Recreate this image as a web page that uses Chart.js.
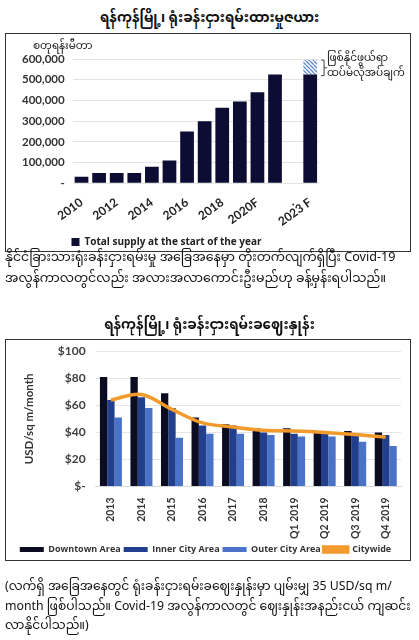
<!DOCTYPE html>
<html>
<head>
<meta charset="utf-8">
<script src="https://cdn.jsdelivr.net/npm/chart.js@4/dist/chart.umd.min.js"></script>
<style>
  body { margin: 0; background: #fff; width: 419px; height: 640px; position: relative; overflow: hidden;
         font-family: "Noto Sans Myanmar", "Padauk", "Myanmar Text", "Noto Sans", sans-serif; color: #111; }
  .t { position: absolute; white-space: nowrap; }
  .title { left: 0; width: 419px; text-align: center; font-size: 13.5px; font-weight: bold; }
  .box { position: absolute; border: 1.5px solid #333; box-sizing: border-box; }
  .box canvas { position: absolute; left: 0; }
  .para { left: 5px; font-size: 12.6px; line-height: 21px; }
</style>
</head>
<body>
<div class="t title" style="top:4px">ရန်ကုန်မြို့၊ ရုံးခန်းငှားရမ်းထားမှုဇယား</div>
<div class="box" style="left:5px;top:33px;width:406px;height:219px">
  <canvas id="chart1" width="403" height="224" style="top:-1px"></canvas>
</div>
<div class="t" style="left:33px;top:35px;font-size:10.5px">စတုရန်းမီတာ</div>
<div class="t" style="left:327px;top:51px;font-size:10.5px;line-height:15px">ဖြစ်နိုင်ဖွယ်ရာ<br>ထပ်မံလိုအပ်ချက်</div>
<div class="t para" style="top:248px">နိုင်ငံခြားသားရုံးခန်းငှားရမ်းမှု အခြေအနေမှာ တိုးတက်လျက်ရှိပြီး Covid-19<br>အလွန်ကာလတွင်လည်း အလားအလာကောင်းဦးမည်ဟု ခန့်မှန်းရပါသည်။</div>
<div class="t title" style="top:311px">ရန်ကုန်မြို့၊ ရုံးခန်းငှားရမ်းခဈေးနှုန်း</div>
<div class="box" style="left:5px;top:339px;width:406px;height:222px">
  <canvas id="chart2" width="403" height="230" style="top:-6px"></canvas>
</div>
<div class="t para" style="top:578px;font-size:12.3px;line-height:19.5px">(လက်ရှိ အခြေအနေတွင် ရုံးခန်းငှားရမ်းခဈေးနှုန်းမှာ ပျမ်းမျှ 35 USD/sq m/<br>month ဖြစ်ပါသည်။ Covid-19 အလွန်ကာလတွင် ဈေးနှုန်းအနည်းငယ် ကျဆင်း<br>လာနိုင်ပါသည်။)</div>

<script>
// supply chart
const supplyYears = ['2010', '2011', '2012', '2013', '2014', '2015', '2016', '2017', '2018', '2019', '2020F', '2021F', '.', '2023 F'];
const supplyTotal = [32000, 50000, 50000, 50000, 80000, 110000, 250000, 300000, 365000, 395000, 440000, 525000, null, 525000];
const supplyExtra = [null, null, null, null, null, null, null, null, null, null, null, null, null, 70000];
const supplyTicks = [0, 100000, 200000, 300000, 400000, 500000, 600000];

// rent chart
const rentPeriods = ['2013', '2014', '2015', '2016', '2017', '2018', 'Q1 2019', 'Q2 2019', 'Q3 2019', 'Q4 2019'];
const downtown = [81, 81, 69, 51, 46, 43, 43, 41, 41, 40];
const innerCity = [64, 66, 58, 45, 45, 40, 39, 39, 39, 38];
const outerCity = [51, 58, 36, 39, 39, 38, 37, 37, 33, 30];
const citywide = [64, 68, 57, 47, 44, 41.5, 41, 40, 38.5, 36.5];

function hatch() {
  const c = document.createElement('canvas');
  c.width = 4; c.height = 4;
  const x = c.getContext('2d');
  x.fillStyle = '#fff';
  x.fillRect(0, 0, 4, 4);
  x.strokeStyle = '#5b88c9';
  x.lineWidth = 1.3;
  x.beginPath();
  for (let k = -4; k <= 4; k += 4) { x.moveTo(k, 0); x.lineTo(k + 4, 4); }
  x.stroke();
  return x.createPattern(c, 'repeat');
}

const bracket = {
  id: 'bracket',
  afterDatasetsDraw(chart) {
    const bar = chart.getDatasetMeta(1).data[13];
    if (!bar) return;
    const ctx = chart.ctx;
    const x = bar.x + bar.width / 2 + 4;
    const top = chart.scales.y.getPixelForValue(595000);
    const bot = chart.scales.y.getPixelForValue(520000);
    ctx.save();
    ctx.strokeStyle = '#444';
    ctx.lineWidth = 1;
    ctx.beginPath();
    ctx.moveTo(x, top); ctx.lineTo(x + 3, top); ctx.lineTo(x + 3, bot); ctx.lineTo(x, bot);
    ctx.moveTo(x + 3, (top + bot) / 2); ctx.lineTo(x + 6, (top + bot) / 2);
    ctx.stroke();
    ctx.restore();
  }
};

const tickFont = { family: 'Lato, Calibri, "Open Sans", sans-serif', size: 11.5, weight: 'bold' };

new Chart(document.getElementById('chart1'), {
  type: 'bar',
  data: {
    labels: supplyYears,
    datasets: [{
      label: 'Total supply at the start of the year',
      data: supplyTotal,
      backgroundColor: '#0d0c33',
      barPercentage: 0.78,
      categoryPercentage: 1
    }, {
      label: 'extra',
      data: supplyExtra,
      backgroundColor: hatch(),
      barPercentage: 0.78,
      categoryPercentage: 1
    }]
  },
  options: {
    responsive: false,
    animation: false,
    layout: { padding: { left: 8, right: 90, top: 26, bottom: 0 } },
    plugins: {
      legend: {
        position: 'bottom',
        labels: {
          filter: item => item.datasetIndex === 0,
          boxWidth: 8, boxHeight: 8, color: '#222',
          font: { family: '"Open Sans", sans-serif', size: 10, weight: 'bold' },
          padding: 4
        }
      },
      tooltip: { enabled: false }
    },
    scales: {
      x: {
        stacked: true,
        grid: { display: false },
        border: { display: false },
        ticks: {
          autoSkip: false, minRotation: 36, maxRotation: 36, color: '#222', font: { ...tickFont, size: 12 }, padding: 4,
          callback: (v, i) => (i % 2 === 0 || i === supplyYears.length - 1) ? supplyYears[i] : ''
        }
      },
      y: {
        stacked: true,
        min: 0, max: 600000,
        afterBuildTicks: s => { s.ticks = supplyTicks.map(v => ({ value: v })); },
        grid: { color: '#e3e3e3', drawTicks: false },
        border: { display: false },
        ticks: {
          color: '#333', font: tickFont, padding: 8,
          callback: v => v === 0 ? '-' : v.toLocaleString('en-US')
        }
      }
    }
  },
  plugins: [bracket]
});

new Chart(document.getElementById('chart2'), {
  type: 'bar',
  data: {
    labels: rentPeriods,
    datasets: [{
      type: 'line',
      label: 'Citywide',
      data: citywide,
      borderColor: '#f39a2c',
      backgroundColor: '#f39a2c',
      borderWidth: 3.5,
      pointRadius: 0,
      tension: 0.35,
      order: 0
    }, {
      label: 'Downtown Area',
      data: downtown,
      backgroundColor: '#0b0b22',
      order: 1
    }, {
      label: 'Inner City Area',
      data: innerCity,
      backgroundColor: '#213f8c',
      order: 1
    }, {
      label: 'Outer City Area',
      data: outerCity,
      backgroundColor: '#4a72c6',
      order: 1
    }]
  },
  options: {
    responsive: false,
    animation: false,
    datasets: { bar: { categoryPercentage: 0.72, barPercentage: 1 } },
    layout: { padding: { left: 4, right: 8, top: 0, bottom: 0 } },
    plugins: {
      legend: {
        position: 'bottom',
        labels: {
          sort: (a, b) => (a.datasetIndex === 0) - (b.datasetIndex === 0),
          boxWidth: 24, boxHeight: 5, color: '#333', padding: 3,
          font: { family: '"Open Sans", sans-serif', size: 9, weight: 'bold' }
        }
      },
      tooltip: { enabled: false }
    },
    scales: {
      x: {
        grid: { display: false },
        border: { color: '#d9d9d9' },
        ticks: { minRotation: 90, maxRotation: 90, color: '#333', font: { ...tickFont, size: 10.5 }, padding: 3 }
      },
      y: {
        min: 0, max: 100,
        ticks: {
          stepSize: 20, color: '#404040', font: { ...tickFont, size: 12 }, padding: 10,
          callback: v => v === 0 ? '$-' : '$' + v
        },
        grid: { color: '#e6e6e6', drawTicks: false },
        border: { display: false },
        title: { display: true, text: 'USD/sq m/month', color: '#333', font: { ...tickFont, size: 11.5 }, padding: 12 }
      }
    }
  }
});
</script>
</body>
</html>
